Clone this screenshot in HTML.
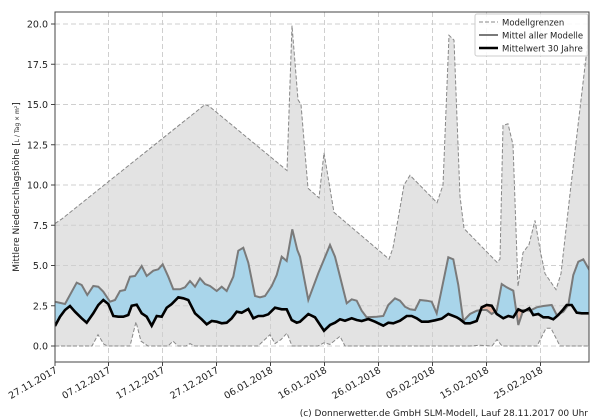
<!DOCTYPE html>
<html><head><meta charset="utf-8"><style>
body{margin:0;background:#fff}
svg{display:block;font-family:"DejaVu Sans","Liberation Sans",sans-serif}
</style></head><body>
<svg id="s" width="600" height="420" viewBox="0 0 600 420"></svg>
<script>
const V=v=>346-v*16.1;
const up=[[55,7.6],[62,7.9],[205,15],[209,14.9],[287,10.9],[292,19.9],[298,15.3],[301,15],[308,9.8],[319,9.2],[324,12],[334,8.3],[389,5.4],[393,6.1],[404,10],[410,10.6],[437,8.9],[443,10],[449,19.3],[454,19],[460,9.3],[464,7.3],[497,5.2],[500,5.4],[503,13.7],[508,13.8],[513,12.5],[518,3.7],[523,5.8],[529,6.3],[535,7.8],[540,6],[545,4.5],[556,3.5],[561,4.5],[571,10],[589,19.5]];
const lo=[[55,0],[92,0],[98,0.7],[104,0.1],[108,0],[130,0],[136,1.5],[141,0.3],[148,0],[168,0],[173,0.3],[178,0],[186,0],[190,0.15],[195,0],[258,0],[270,0.7],[275,0.15],[281,0.4],[287,0.8],[292,0],[318,0],[324,0.2],[330,0.1],[340,0.6],[345,0],[470,0],[480,0.05],[492,0],[497,0.4],[502,0],[537,0],[546,1.1],[551,1.1],[560,0],[589,0]];
const z3m=[[165,275],[195,282],[230,218],[245,225],[262,255],[280,228],[295,230],[310,245],[330,275],[345,270],[360,243],[375,240],[390,200],[405,198],[425,168],[440,198],[460,182],[475,178],[488,163],[505,200],[520,238],[540,238],[555,232],[570,213],[585,230],[600,205],[615,222],[630,228],[650,243],[665,230],[680,243],[700,200],[715,122],[730,113],[745,158],[765,258],[780,262],[795,258],[815,228],[830,195],[845,140],[860,153],[877,58],[892,120]];
const z4m=[[0,140],[25,270],[55,190],[90,105],[105,140],[125,220],[140,280],[155,268],[170,272],[185,302],[200,322],[230,320],[250,318],[265,285],[285,265],[300,272],[315,290],[330,298],[345,300],[360,270],[380,272],[395,275],[410,310],[445,142],[460,148],[475,225],[490,333],[510,312],[530,302],[545,300],[560,300],[575,312],[590,302],[605,222],[620,232],[640,242],[655,345],[670,300],[690,302],[710,292],[730,288],[755,285],[770,315],[790,305],[805,285],[820,195],[835,155],[850,148],[868,180]];
const z3k=[[165,348],[180,320],[195,300],[210,288],[225,305],[245,325],[260,338],[280,310],[295,285],[310,270],[325,282],[340,318],[355,320],[370,320],[385,315],[395,287],[410,284],[425,310],[440,320],[455,347],[470,318],[485,320],[500,293],[515,282],[535,262],[550,265],[565,270],[585,310],[605,328],[620,343],[635,333],[650,335],[665,340],[680,338],[695,325],[710,305],[725,308],[745,297],[760,325],[775,318],[790,318],[805,313],[825,293],[845,298],[860,298],[875,330],[890,338]];
const z4k=[[0,335],[25,312],[45,322],[72,362],[90,345],[105,338],[120,328],[135,332],[155,325],[170,330],[185,333],[205,327],[225,335],[250,347],[265,338],[280,340],[300,332],[320,318],[335,318],[350,325],[365,335],[385,335],[405,331],[425,326],[445,312],[470,322],[480,328],[495,340],[510,340],[530,333],[545,292],[560,285],[575,287],[590,312],[610,325],[625,318],[640,322],[655,298],[670,305],[688,295],[700,315],[715,312],[730,322],[745,322],[760,328],[775,315],[790,298],[800,285],[815,285],[830,308],[845,310],[868,310]];
const c3=a=>a.map(p=>[p[0]/3,p[1]/3+210]),c4=a=>a.map(p=>[p[0]/3+300,p[1]/3+210]);
const M=c3(z3m).concat(c4(z4m)),K=c3(z3k).concat(c4(z4k));
const U=up.map(p=>[p[0],V(p[1])]),L=lo.map(p=>[p[0],V(p[1])]);
const pts=a=>a.map(p=>p[0].toFixed(1)+','+p[1].toFixed(1)).join(' ');
const rev=a=>a.slice().reverse();
let s='';
s+='<defs><clipPath id="ax"><rect x="55" y="12" width="534" height="350"/></clipPath>';
s+='<clipPath id="aboveK"><polygon points="55,0 '+pts(K)+' 589,0"/></clipPath>';
s+='<clipPath id="aboveM"><polygon points="55,0 '+pts(M)+' 589,0"/></clipPath></defs>';
s+='<g clip-path="url(#ax)">';
s+='<polygon points="'+pts(U)+' '+pts(rev(L))+'" fill="#e3e3e3"/>';
// grid
let g='';
for(let v=0;v<=20;v+=2.5)g+='<line x1="55" x2="589" y1="'+V(v)+'" y2="'+V(v)+'"/>';
[55,108.5,162.5,216.5,270.5,324.5,378.5,432.5,486.5,540.5].forEach(x=>g+='<line x1="'+x+'" x2="'+x+'" y1="12" y2="362"/>');
s+='<g stroke="#cfcfcf" stroke-width="1" stroke-dasharray="5,3">'+g+'</g>';
s+='<polygon clip-path="url(#aboveK)" points="55,420 '+pts(M)+' 589,420" fill="#a9d5ea"/>';
s+='<polygon clip-path="url(#aboveM)" points="55,420 '+pts(K)+' 589,420" fill="#e8b9a8"/>';
s+='<polyline points="'+pts(U)+'" fill="none" stroke="#888" stroke-width="1" stroke-dasharray="4,2"/>';
s+='<polyline points="'+pts(L)+'" fill="none" stroke="#888" stroke-width="1" stroke-dasharray="4,2"/>';
s+='<polyline points="'+pts(M)+'" fill="none" stroke="#7a7a7a" stroke-width="2"/>';
s+='<polyline points="'+pts(K)+'" fill="none" stroke="#000" stroke-width="2.6"/>';
s+='</g>';
s+='<rect x="55" y="12" width="534" height="350" fill="none" stroke="#444" stroke-width="1"/>';
for(let v=0;v<=20;v+=2.5){s+='<line x1="51" x2="55" y1="'+V(v)+'" y2="'+V(v)+'" stroke="#444"/><text x="48" y="'+(V(v)+3.5)+'" font-size="9.5" text-anchor="end" fill="#222">'+v.toFixed(1)+'</text>';}
const lab=['27.11.2017','07.12.2017','17.12.2017','27.12.2017','06.01.2018','16.01.2018','26.01.2018','05.02.2018','15.02.2018','25.02.2018'];
[55,108.5,162.5,216.5,270.5,324.5,378.5,432.5,486.5,540.5].forEach((x,i)=>{s+='<line x1="'+x+'" x2="'+x+'" y1="362" y2="366" stroke="#444"/><text transform="translate('+(x+3)+',372) rotate(-30)" font-size="9.5" text-anchor="end" fill="#222">'+lab[i]+'</text>';});
s+='<text transform="translate(19,187) rotate(-90)" font-size="9" text-anchor="middle" fill="#222">Mittlere Niederschlagshöhe [<tspan font-size="6">L / Tag × m²</tspan>]</text>';
s+='<rect x="475" y="14" width="113" height="42" fill="#fff" fill-opacity="0.85" stroke="#ccc" rx="2"/>';
s+='<line x1="479" x2="498" y1="22" y2="22" stroke="#888" stroke-dasharray="4,2"/><text x="502" y="25.5" font-size="8.5" fill="#222">Modellgrenzen</text>';
s+='<line x1="479" x2="498" y1="35" y2="35" stroke="#7a7a7a" stroke-width="2"/><text x="502" y="38.5" font-size="8.5" fill="#222">Mittel aller Modelle</text>';
s+='<line x1="479" x2="498" y1="48" y2="48" stroke="#000" stroke-width="2.6"/><text x="502" y="51.5" font-size="8.5" fill="#222">Mittelwert 30 Jahre</text>';
s+='<text x="588" y="416" font-size="9" text-anchor="end" fill="#222">(c) Donnerwetter.de GmbH SLM-Modell, Lauf 28.11.2017 00 Uhr</text>';
document.getElementById('s').innerHTML=s;
</script>
</body></html>
